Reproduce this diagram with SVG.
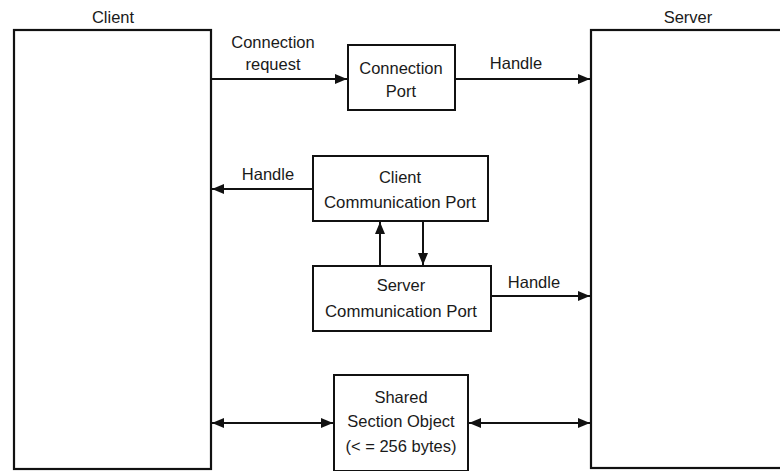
<svg xmlns="http://www.w3.org/2000/svg" width="780" height="471" viewBox="0 0 780 471">
<defs>
<marker id="ah" viewBox="0 0 12 10" refX="12" refY="5" markerWidth="12" markerHeight="10" markerUnits="userSpaceOnUse" orient="auto-start-reverse">
<path d="M0,0 L12,5 L0,10 Z" fill="#111"/>
</marker>
<style>
.box{fill:#fff;stroke:#111;stroke-width:2}
.big{fill:#fff;stroke:#111;stroke-width:2.2}
.t{font-family:"Liberation Sans",Arial,sans-serif;font-size:16.5px;fill:#1a1a1a;text-anchor:middle}
.c{fill:none;stroke:#111;stroke-width:2}
</style>
</defs>
<rect width="780" height="471" fill="#fff"/>
<g id="client">
<rect class="big" x="14" y="30" width="197" height="439"/>
<text class="t" x="113" y="23">Client</text>
</g>
<g id="server">
<rect class="big" x="591" y="30" width="220" height="438"/>
<text class="t" x="688" y="23">Server</text>
</g>
<g id="connection-port">
<rect class="box" x="348" y="45" width="107" height="65"/>
<text class="t" x="401" y="74">Connection</text>
<text class="t" x="401" y="97">Port</text>
</g>
<g id="client-comm-port">
<rect class="box" x="313" y="156" width="175" height="65"/>
<text class="t" x="400" y="183">Client</text>
<text class="t" x="400" y="208" style="font-size:16.8px">Communication Port</text>
</g>
<g id="server-comm-port">
<rect class="box" x="313" y="266" width="178" height="65"/>
<text class="t" x="401" y="291">Server</text>
<text class="t" x="401" y="317" style="font-size:16.8px">Communication Port</text>
</g>
<g id="shared-section">
<rect class="box" x="334" y="375" width="134" height="96"/>
<text class="t" x="401" y="403">Shared</text>
<text class="t" x="401" y="427">Section Object</text>
<text class="t" x="401" y="452">(&lt; = 256 bytes)</text>
</g>
<g id="connectors">
<line class="c" x1="211" y1="79" x2="347" y2="79" marker-end="url(#ah)"/>
<line class="c" x1="455" y1="79" x2="590" y2="79" marker-end="url(#ah)"/>
<line class="c" x1="313" y1="189" x2="212" y2="189" marker-end="url(#ah)"/>
<line class="c" x1="380" y1="266" x2="380" y2="222" marker-end="url(#ah)"/>
<line class="c" x1="423" y1="221" x2="423" y2="265" marker-end="url(#ah)"/>
<line class="c" x1="491" y1="296" x2="590" y2="296" marker-end="url(#ah)"/>
<line class="c" x1="212" y1="423" x2="333" y2="423" marker-start="url(#ah)" marker-end="url(#ah)"/>
<line class="c" x1="469" y1="423" x2="590" y2="423" marker-start="url(#ah)" marker-end="url(#ah)"/>
<text class="t" x="273" y="48">Connection</text>
<text class="t" x="273" y="70">request</text>
<text class="t" x="516" y="69">Handle</text>
<text class="t" x="268" y="180">Handle</text>
<text class="t" x="534" y="288">Handle</text>
</g>
</svg>
